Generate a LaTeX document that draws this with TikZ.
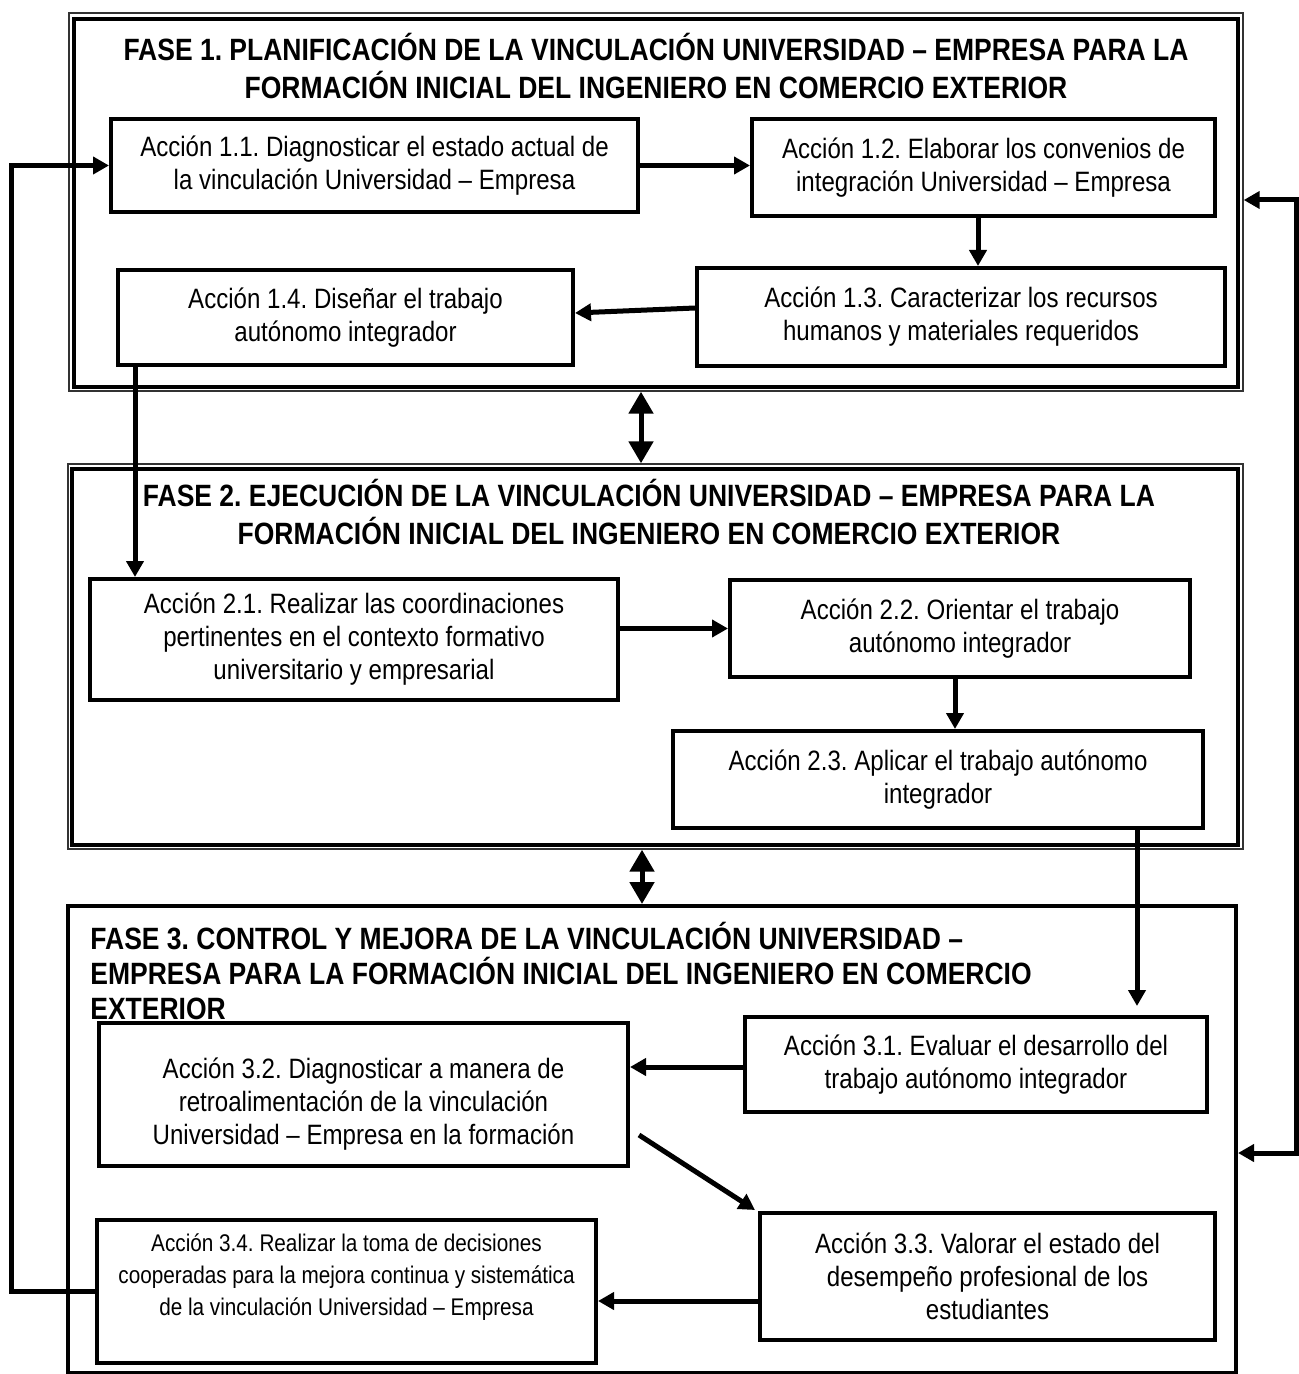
\documentclass[tikz,border=0pt]{standalone}
\usepackage{fontspec}
\setmainfont{Liberation Sans}[FakeStretch=0.86]
\usetikzlibrary{arrows.meta,calc}
\frenchspacing
\begin{document}
\frenchspacing
\begin{tikzpicture}[x=0.5pt,y=-0.5pt,
  box/.style={draw,line width=2pt,inner sep=0pt,align=center,font=\fontsize{14}{16.5}\selectfont},
  frin/.style={draw,line width=2pt,inner sep=0pt},
  frout/.style={draw=black!80,line width=0.7pt,inner sep=0pt},
  conn/.style={line width=2.5pt,-{Triangle[length=8pt,width=8.5pt]}},
  conn2/.style={line width=2.5pt,{Triangle[length=8pt,width=8.5pt]}-{Triangle[length=8pt,width=8.5pt]}},
  dbl/.style={line width=2.5pt,{Triangle[length=11pt,width=12pt]}-{Triangle[length=11pt,width=12pt]}},
  ttl/.style={font=\fontsize{15.4}{18.7}\selectfont\bfseries,align=center,inner sep=0pt}]
\useasboundingbox (0,0) rectangle (1298,1374);
% frames
\node[frout,minimum width=587pt,minimum height=189pt] (f1o) at (656,202) {};
\node[frin,minimum width=582pt,minimum height=184pt] (f1) at (656,203) {};
\node[frout,minimum width=587.5pt,minimum height=192.5pt] (f2o) at (655.5,656.5) {};
\node[frin,minimum width=583pt,minimum height=188pt] (f2) at (655,657) {};
\node[frin,minimum width=584pt,minimum height=233.5pt] (f3) at (652,1139.5) {};
% titles
\node[ttl] (t1) at (656,66) {FASE 1. PLANIFICACIÓN DE LA VINCULACIÓN UNIVERSIDAD – EMPRESA PARA LA\\FORMACIÓN INICIAL DEL INGENIERO EN COMERCIO EXTERIOR};
\node[ttl] (t2) at (649,512) {FASE 2. EJECUCIÓN DE LA VINCULACIÓN UNIVERSIDAD – EMPRESA PARA LA\\FORMACIÓN INICIAL DEL INGENIERO EN COMERCIO EXTERIOR};
\node[ttl,align=left,anchor=west,font=\fontsize{15.4}{17.5}\selectfont\bfseries] (t3) at (90,971) {FASE 3. CONTROL Y MEJORA DE LA VINCULACIÓN UNIVERSIDAD –\\EMPRESA PARA LA FORMACIÓN INICIAL DEL INGENIERO EN COMERCIO\\EXTERIOR};
% boxes
\node[box,minimum width=263.5pt,minimum height=46.5pt] (a11) at (374.5,165.5) {Acción 1.1. Diagnosticar el estado actual de\\la vinculación Universidad – Empresa};
\node[box,minimum width=231.5pt,minimum height=48.5pt] (a12) at (983.5,167.5) {Acción 1.2. Elaborar los convenios de\\integración Universidad – Empresa};
\node[box,minimum width=264pt,minimum height=49pt] (a13) at (961,317) {Acción 1.3. Caracterizar los recursos\\humanos y materiales requeridos};
\node[box,minimum width=227.5pt,minimum height=47.5pt] (a14) at (345.5,317.5) {Acción 1.4. Diseñar el trabajo\\autónomo integrador};
\node[box,minimum width=264pt,minimum height=60.5pt] (a21) at (354,639.5) {Acción 2.1. Realizar las coordinaciones\\pertinentes en el contexto formativo\\universitario y empresarial};
\node[box,minimum width=230pt,minimum height=48.5pt] (a22) at (960,628.5) {Acción 2.2. Orientar el trabajo\\autónomo integrador};
\node[box,minimum width=265pt,minimum height=48.5pt] (a23) at (938,779.5) {Acción 2.3. Aplicar el trabajo autónomo\\integrador};
\node[box,minimum width=231pt,minimum height=47.5pt] (a31) at (976,1064.5) {Acción 3.1. Evaluar el desarrollo del\\trabajo autónomo integrador};
\node[box,minimum width=264.5pt,minimum height=71.5pt] (a32) at (363.5,1094.5) {\rule{0pt}{20pt}Acción 3.2. Diagnosticar a manera de\\retroalimentación de la vinculación\\Universidad – Empresa en la formación};
\node[box,minimum width=227.5pt,minimum height=63.5pt] (a33) at (987.5,1276.5) {Acción 3.3. Valorar el estado del\\desempeño profesional de los\\estudiantes};
\node[box,minimum width=249.5pt,minimum height=71.5pt,font=\fontsize{12.05}{16}\selectfont] (a34) at (346.5,1291.5) {Acción 3.4. Realizar la toma de decisiones\\cooperadas para la mejora continua y sistemática\\de la vinculación Universidad – Empresa\\[1pt]\mbox{}};
% connectors
\draw[conn] (a11.east) -- (a11.east -| a12.west);
\draw[conn] ($(a12.south)+(-5.5,0)$) -- ($(a13.north)+(17,0)$);
\draw[conn] ($(a13.west)+(0,-9)$) -- ($(a14.east)+(0,-4.5)$);
\draw[conn] ($(a14.south)+(-210.5,0)$) -- ($(a21.north)+(-219,0)$);
\draw[conn] (a22.west -| a21.east) -- (a22.west);
\draw[conn] ($(a22.south)+(-5,0)$) -- ($(a23.north)+(17,0)$);
\draw[conn] ($(a23.south)+(199,0)$) -- ($(a31.north)+(161,-9)$);
\draw[conn] ($(a31.west)+(0,2.5)$) -- ($(a32.east)+(0,-27.5)$);
\draw[conn] ($(a32.south east)+(9,-33)$) -- ($(a33.north west)+(-3,-1)$);
\draw[conn] ($(a33.west)+(0,24.5)$) -- ($(a34.east)+(0,9.5)$);
\draw[conn] (a34.west) -- ($(a34.west)+(-84,0)$) |- (a11.west);
\draw[conn2] ($(f1o.east)+(0,-2)$) -- ++(53,0) |- ($(f3.east)+(0,13.5)$);
\draw[dbl] ($(f1o.south)+(-15,0)$) -- ($(f2o.north)+(-14.5,0)$);
\draw[dbl] ($(f2o.south)+(-13.5,0)$) -- ($(f3.north)+(-10,0)$);
\end{tikzpicture}
\end{document}
